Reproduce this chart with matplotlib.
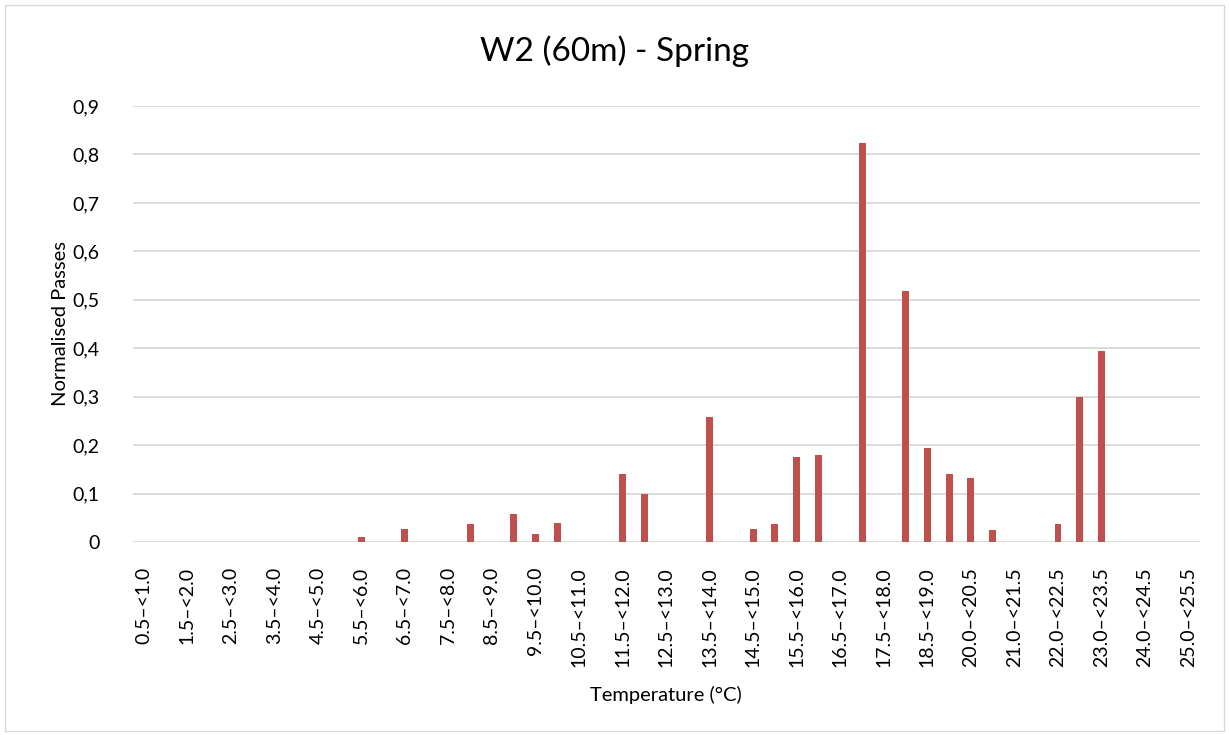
import matplotlib.pyplot as plt
import matplotlib.patches as mpatches
from matplotlib.ticker import FuncFormatter, MultipleLocator
import numpy as np

plt.rcParams['font.family'] = ['Lato', 'DejaVu Sans']

# temperature bins (0.5 wide); only every other one is labelled on the axis
bins = ['0.5–<1.0', '1.0–<1.5', '1.5–<2.0', '2.0–<2.5', '2.5–<3.0', '3.0–<3.5',
        '3.5–<4.0', '4.0–<4.5', '4.5–<5.0', '5.0–<5.5', '5.5–<6.0', '6.0–<6.5',
        '6.5–<7.0', '7.0–<7.5', '7.5–<8.0', '8.0–<8.5', '8.5–<9.0', '9.0–<9.5',
        '9.5–<10.0', '10.0–<10.5', '10.5–<11.0', '11.0–<11.5', '11.5–<12.0',
        '12.0–<12.5', '12.5–<13.0', '13.0–<13.5', '13.5–<14.0', '14.0–<14.5',
        '14.5–<15.0', '15.0–<15.5', '15.5–<16.0', '16.0–<16.5', '16.5–<17.0',
        '17.0–<17.5', '17.5–<18.0', '18.0–<18.5', '18.5–<19.0', '19.0–<20.0',
        '20.0–<20.5', '20.5–<21.0', '21.0–<21.5', '21.5–<22.0', '22.0–<22.5',
        '22.5–<23.0', '23.0–<23.5', '23.5–<24.0', '24.0–<24.5', '24.5–<25.0',
        '25.0–<25.5']

passes = [0, 0, 0, 0, 0, 0,
          0, 0, 0, 0, 0.011, 0,
          0.027, 0, 0, 0.037, 0, 0.058,
          0.016, 0.039, 0, 0, 0.140,
          0.099, 0, 0, 0.259, 0,
          0.027, 0.037, 0.175, 0.179, 0,
          0.824, 0, 0.518, 0.193, 0.140,
          0.132, 0.024, 0, 0, 0.037,
          0.300, 0.395, 0, 0, 0,
          0]

fig = plt.figure(figsize=(12.29, 7.35), dpi=100)
ax = fig.add_axes([0.108, 0.2626, 0.868, 0.5932])

x = np.arange(len(bins))
ax.bar(x, passes, width=0.32, color='#C0504D', zorder=3)

ax.set_xlim(-0.5, len(bins) - 0.5)
ax.set_ylim(0, 0.9)
ax.yaxis.set_major_locator(MultipleLocator(0.1))
ax.yaxis.set_major_formatter(FuncFormatter(
    lambda v, p: '0' if abs(v) < 1e-9 else ('%.1f' % v).replace('.', ',')))
ax.grid(axis='y', color='#D9D9D9', linewidth=1.3, zorder=0)

ax.set_xticks(x[::2])
ax.set_xticklabels(bins[::2], rotation=90, fontsize=14, va='top')
ax.tick_params(axis='x', length=0, pad=18)
ax.tick_params(axis='y', length=0, pad=24, labelsize=14)

for s in ['top', 'right', 'left', 'bottom']:
    ax.spines[s].set_visible(False)

# title is centred on the whole chart, not on the plot area
fig.text(0.5, 0.931, 'W2 (60m) - Spring', fontsize=24, ha='center', va='center')
ax.set_xlabel('Temperature (°C)', fontsize=14.5, labelpad=14)
ax.set_ylabel('Normalised Passes', fontsize=14.5, labelpad=2)

# chart area border
fig.patches.append(mpatches.Rectangle((0.004, 0.006), 0.992, 0.987, transform=fig.transFigure,
                                      fill=False, edgecolor='#D9D9D9', linewidth=1))

plt.savefig('out.png', dpi=100)
